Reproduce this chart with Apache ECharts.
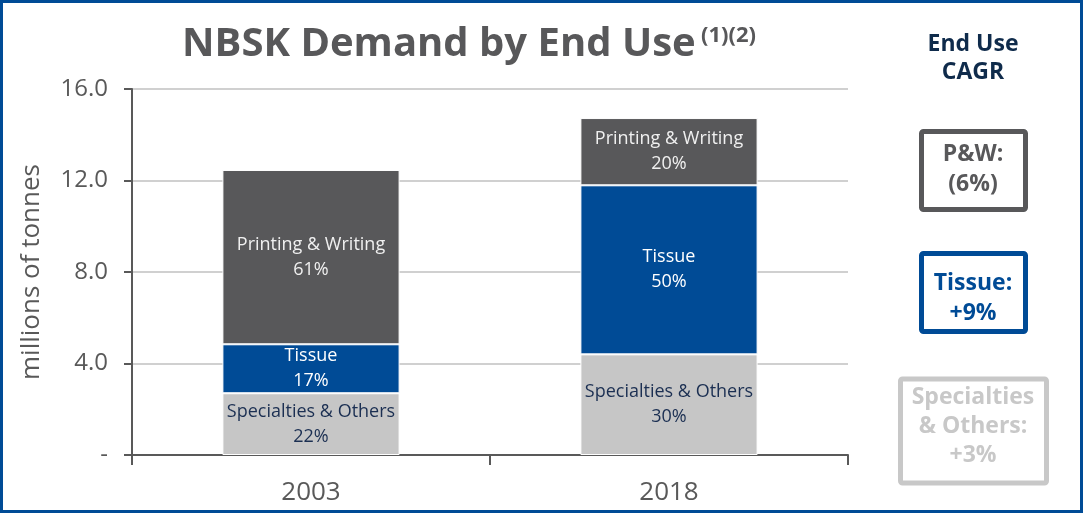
<!DOCTYPE html>
<html>
<head>
<meta charset="utf-8">
<style>
  html, body { margin: 0; padding: 0; background: #fff; }
  #chart { width: 1084px; height: 514px; }
</style>
<script src="https://cdn.jsdelivr.net/npm/echarts@6/dist/echarts.min.js"></script>
</head>
<body>
<div id="chart"></div>
<script>
// data (millions of tonnes)
const years = ['2003', '2018'];
const specialties = [2.70, 4.40];
const tissue = [2.14, 7.39];
const printingWriting = [7.62, 2.94];
// share labels printed inside the bars
const specialtiesShare = [22, 30];
const tissueShare = [17, 50];
const printingShare = [61, 20];
const yTicks = [0, 4, 8, 12, 16];

const FONT = '"Open Sans", "Noto Sans", sans-serif';
const GREY = '#58585a';
const BLUE = '#004b96';
const LIGHT = '#c6c6c6';

const chart = echarts.init(document.getElementById('chart'));

function seg(name, values, shares, color, textColor) {
  return {
    name: name,
    type: 'bar',
    stack: 'total',
    barWidth: '49.5%',
    data: values,
    itemStyle: { color: color, borderColor: '#fff', borderWidth: 1 },
    label: {
      show: true,
      position: 'inside',
      color: textColor,
      fontFamily: FONT,
      fontSize: 18,
      lineHeight: 25,
      formatter: p => name + '\n' + shares[p.dataIndex] + '%'
    },
    emphasis: { disabled: true }
  };
}

const option = {
  animation: false,
  textStyle: { fontFamily: FONT },
  grid: { left: 132, right: 236, top: 89, bottom: 59 },
  xAxis: {
    type: 'category',
    data: years,
    axisLine: { lineStyle: { color: '#595959', width: 2 } },
    axisTick: { show: true, length: 10, lineStyle: { color: '#595959', width: 2 } },
    axisLabel: { color: '#595959', fontSize: 26, margin: 25, fontFamily: FONT }
  },
  yAxis: {
    type: 'value',
    min: 0,
    max: 16,
    interval: 4,
    name: 'millions of tonnes',
    nameLocation: 'middle',
    nameGap: 87,
    nameTextStyle: { color: '#595959', fontSize: 26, fontFamily: FONT },
    axisLine: { show: true, lineStyle: { color: '#595959', width: 2 } },
    axisTick: { show: true, length: 8, lineStyle: { color: '#595959', width: 2 } },
    axisLabel: {
      color: '#595959',
      fontSize: 24,
      margin: 24,
      fontFamily: FONT,
      formatter: v => (yTicks.indexOf(v) === 0 ? '-' : v.toFixed(1))
    },
    splitLine: { lineStyle: { color: '#d0d0d0', width: 2 } }
  },
  series: [
    seg('Specialties & Others', specialties, specialtiesShare, LIGHT, '#1b2f52'),
    seg('Tissue', tissue, tissueShare, BLUE, '#ffffff'),
    seg('Printing & Writing', printingWriting, printingShare, GREY, '#f0f0f0')
  ],
  graphic: [
    // outer frame
    { type: 'rect', shape: { x: 1.5, y: 1.5, width: 1080, height: 510 },
      style: { fill: null, stroke: BLUE, lineWidth: 3 }, silent: true },
    // title
    { type: 'text', left: 182, top: 25,
      style: { text: 'NBSK Demand by End Use', font: 'bold 40px ' + FONT, fill: GREY } },
    { type: 'text', left: 701, top: 25,
      style: { text: '(1)(2)', font: 'bold 22px ' + FONT, fill: GREY } },
    // side panel
    { type: 'text', x: 973, y: 30,
      style: { text: 'End Use\nCAGR', font: 'bold 23px ' + FONT, fill: '#0f2b4b',
               align: 'center', lineHeight: 28 } },
    { type: 'rect', shape: { x: 921.5, y: 131.5, width: 104, height: 78, r: 2 },
      style: { fill: '#fff', stroke: GREY, lineWidth: 5 } },
    { type: 'text', x: 973, y: 139,
      style: { text: 'P&W:\n(6%)', font: 'bold 23px ' + FONT, fill: GREY,
               align: 'center', lineHeight: 30 } },
    { type: 'rect', shape: { x: 921.5, y: 253.5, width: 104, height: 78, r: 2 },
      style: { fill: '#fff', stroke: BLUE, lineWidth: 5 } },
    { type: 'text', x: 973, y: 268,
      style: { text: 'Tissue:\n+9%', font: 'bold 23px ' + FONT, fill: BLUE,
               align: 'center', lineHeight: 30 } },
    { type: 'rect', shape: { x: 900.5, y: 379, width: 146, height: 104, r: 2 },
      style: { fill: '#fff', stroke: '#c8c8c8', lineWidth: 5 } },
    { type: 'text', x: 973, y: 383,
      style: { text: 'Specialties\n& Others:\n+3%', font: 'bold 23px ' + FONT, fill: '#c8c8c8',
               align: 'center', lineHeight: 29 } }
  ]
};

chart.setOption(option);
</script>
</body>
</html>
